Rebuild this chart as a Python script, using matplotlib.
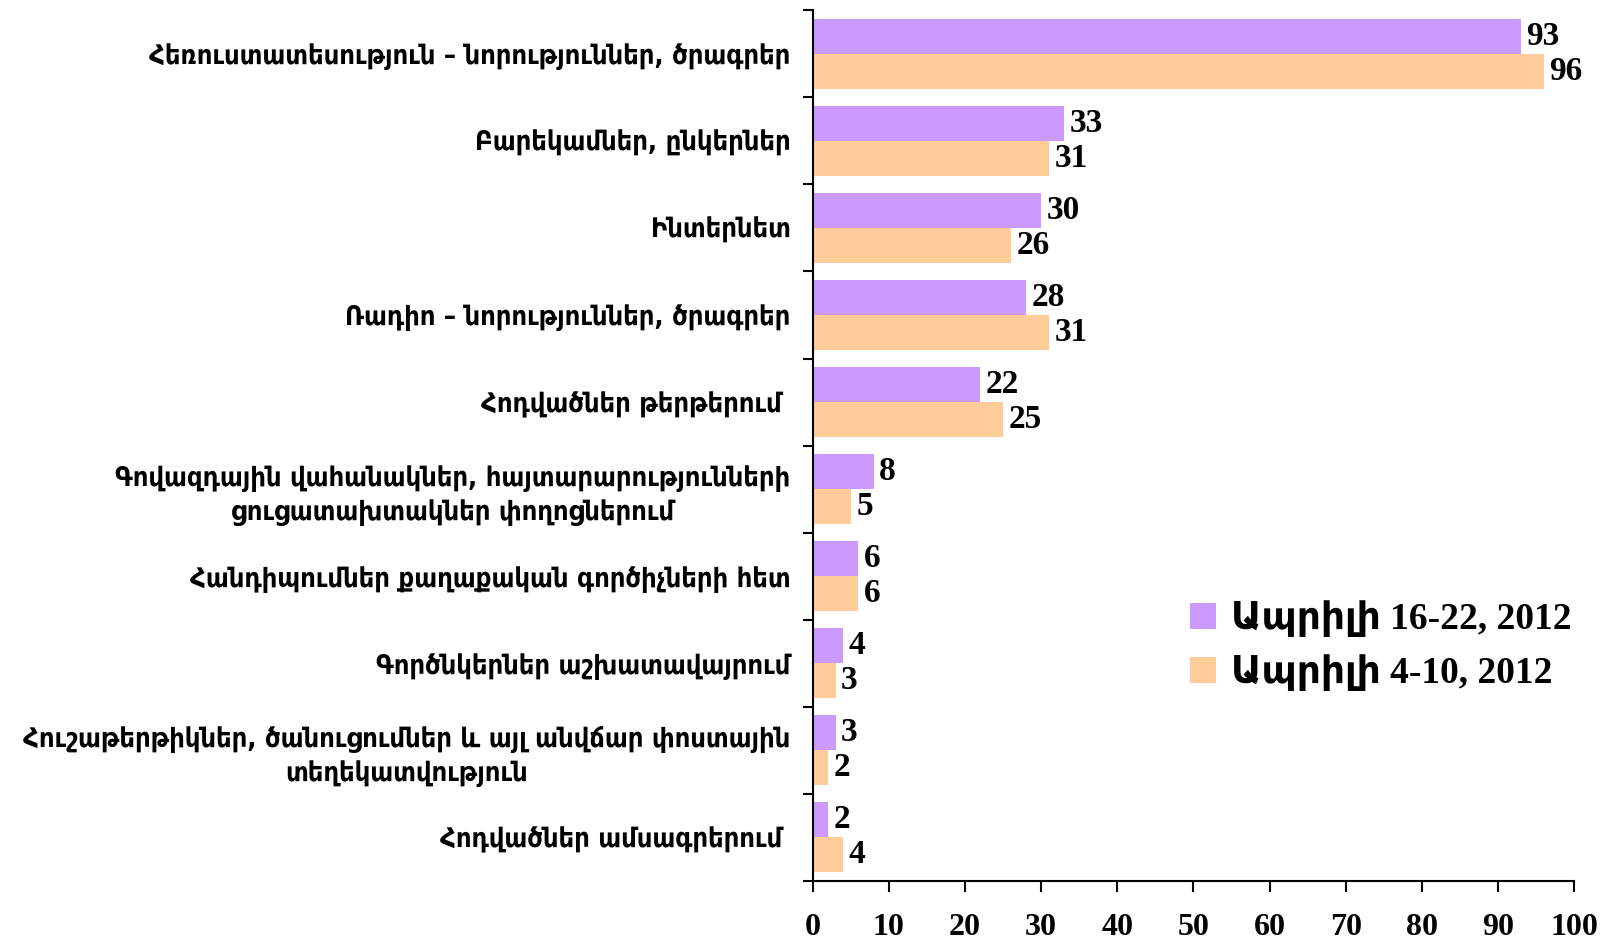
import numpy as np
import matplotlib

matplotlib.use("Agg")
import matplotlib.pyplot as plt

# ── Data ──────────────────────────────────────────────────────────────────────
CATEGORIES = [
    "Հեռուստատեսություն – նորություններ, ծրագրեր",
    "Բարեկամներ, ընկերներ",
    "Ինտերնետ",
    "Ռադիո – նորություններ, ծրագրեր",
    "Հոդվածներ թերթերում ",
    "Գովազդային վահանակներ, հայտարարությունների\nցուցատախտակներ փողոցներում",
    "Հանդիպումներ քաղաքական գործիչների հետ",
    "Գործնկերներ աշխատավայրում",
    "Հուշաթերթիկներ, ծանուցումներ և այլ անվճար փոստային\nտեղեկատվություն",
    "Հոդվածներ ամսագրերում ",
]
APR_16_22 = [93, 33, 30, 28, 22, 8, 6, 4, 3, 2]
APR_4_10 = [96, 31, 26, 31, 25, 5, 6, 3, 2, 4]
SERIES_LABELS = ["Ապրիլի 16-22, 2012", "Ապրիլի 4-10, 2012"]
X_TICKS = list(range(0, 101, 10))

COLORS = ["#CC99FF", "#FFCC99"]
NUM_FONT = ["Liberation Serif", "DejaVu Sans"]

# ── Plot ──────────────────────────────────────────────────────────────────────
fig = plt.figure(figsize=(16.03, 9.43), dpi=100)
ax = fig.add_axes([0.507, 0.066, 0.475, 0.923])

y = np.arange(len(CATEGORIES))
h = 0.405
bars1 = ax.barh(y - h / 2, APR_16_22, height=h, color=COLORS[0], label=SERIES_LABELS[0])
bars2 = ax.barh(y + h / 2, APR_4_10, height=h, color=COLORS[1], label=SERIES_LABELS[1])

for bars, vals in ((bars1, APR_16_22), (bars2, APR_4_10)):
    for b, v in zip(bars, vals):
        ax.annotate(
            f"{v}",
            (b.get_width(), b.get_y() + b.get_height() / 2),
            xytext=(4, 0),
            textcoords="offset points",
            va="center",
            ha="left",
            fontsize=24,
            fontweight="bold",
            family=NUM_FONT,
        )

ax.set_xlim(0, 100)
ax.set_ylim(len(CATEGORIES) - 0.5, -0.5)

ax.set_yticks(y)
ax.set_yticklabels(CATEGORIES, fontsize=19.5, fontweight="bold", fontstretch="condensed",
                   ha="right", multialignment="center", linespacing=1.35)
ax.tick_params(axis="y", which="major", length=0, pad=16)
ax.set_yticks(np.arange(-0.5, len(CATEGORIES)), minor=True)
ax.tick_params(axis="y", which="minor", length=7, width=1.5, direction="out")

ax.set_xticks(X_TICKS)
ax.set_xticklabels([str(t) for t in X_TICKS], fontsize=23, fontweight="bold",
                   family=NUM_FONT)
ax.tick_params(axis="x", length=8, width=1.5, direction="out", pad=15)

for side in ("top", "right"):
    ax.spines[side].set_visible(False)
for side in ("left", "bottom"):
    ax.spines[side].set_linewidth(1.5)

ax.legend(
    loc="upper left",
    bbox_to_anchor=(0.721, 0.399),
    bbox_transform=fig.transFigure,
    frameon=False,
    handlelength=0.7,
    handleheight=0.7,
    handletextpad=0.4,
    labelspacing=0.45,
    prop=dict(family=NUM_FONT, weight="bold", size=27),
)

fig.savefig("out.png", dpi=100)
